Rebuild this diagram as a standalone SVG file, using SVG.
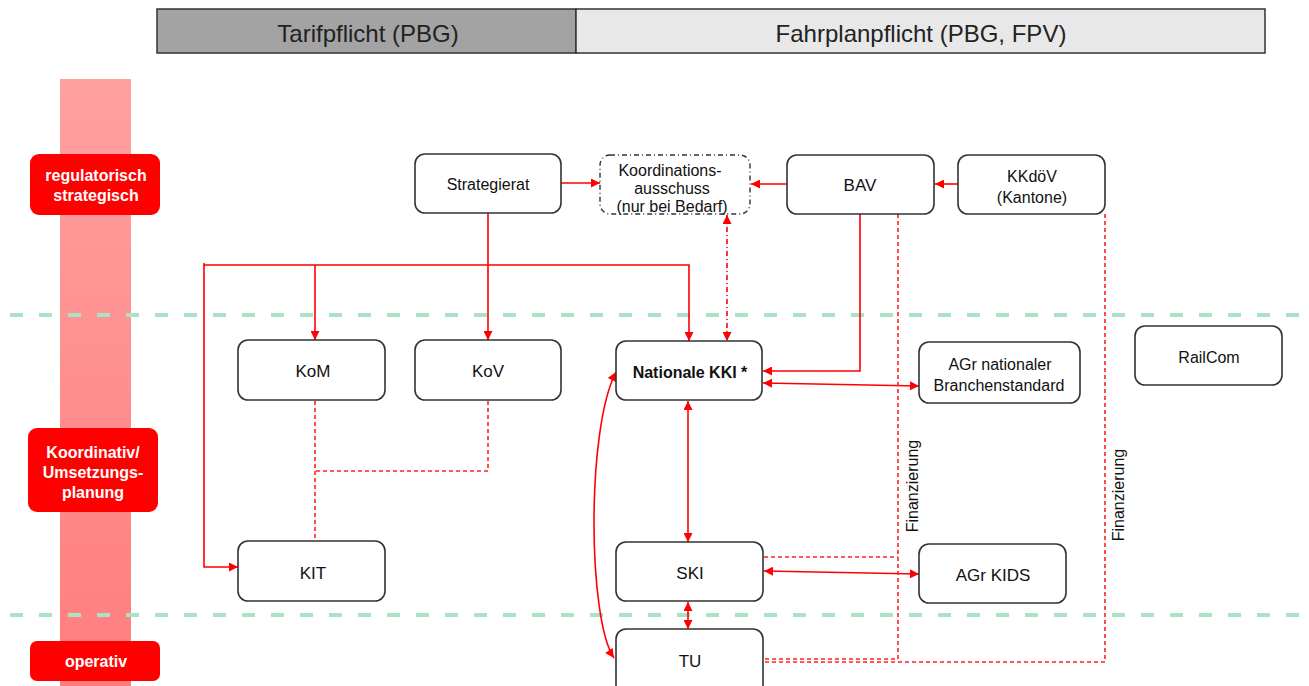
<svg xmlns="http://www.w3.org/2000/svg" width="1309" height="686" viewBox="0 0 1309 686">
<style>
.node{fill:#fff;stroke:#333;stroke-width:1.6}
.t{font-family:"Liberation Sans",Arial,sans-serif;font-size:16px;fill:#111;text-anchor:middle}
.s17{font-size:17px}
.lbl{font-family:"Liberation Sans",Arial,sans-serif;font-size:16px;font-weight:bold;fill:#fff;text-anchor:middle}
.hdr{font-family:"Liberation Sans",Arial,sans-serif;font-size:24px;fill:#222;text-anchor:middle}
.c{fill:none;stroke:#ff0000;stroke-width:1.6}
.d{fill:none;stroke:#ff2020;stroke-width:1.6;stroke-dasharray:4 3}
.dd{fill:none;stroke:#ff0000;stroke-width:1.6;stroke-dasharray:5 3 1 3}
.g{stroke:#a9e2c4;stroke-width:4;stroke-dasharray:13 16}
</style>
<defs>
<linearGradient id="band" x1="0" y1="0" x2="0" y2="1">
<stop offset="0" stop-color="#ffa0a0"/>
<stop offset="1" stop-color="#ff7d7d"/>
</linearGradient>
<marker id="a" viewBox="0 0 10 10" refX="10" refY="5" markerWidth="10" markerHeight="9" markerUnits="userSpaceOnUse" orient="auto-start-reverse">
<path d="M0,0 L10,5 L0,10 z" fill="#ff0000"/>
</marker>
</defs>

<g id="header">
<rect x="157" y="9" width="419" height="44" fill="#a3a3a3" stroke="#333" stroke-width="1.5"/>
<rect x="576" y="9" width="689" height="44" fill="#e8e8e8" stroke="#333" stroke-width="1.5"/>
<text class="hdr" x="368" y="42">Tarifpflicht (PBG)</text>
<text class="hdr" x="921" y="42">Fahrplanpflicht (PBG, FPV)</text>
</g>

<rect id="band" x="60" y="79" width="71" height="607" fill="url(#band)"/>

<g id="levels">
<line class="g" x1="10" y1="315" x2="1309" y2="315"/>
<line class="g" x1="10" y1="615" x2="1309" y2="615"/>
</g>

<g id="level-regulatorisch">
<rect x="30" y="154" width="130" height="61" rx="9" fill="#ff0000"/>
<text class="lbl" x="96" y="181">regulatorisch</text>
<text class="lbl" x="96" y="201">strategisch</text>
</g>
<g id="level-koordinativ">
<rect x="28" y="428" width="130" height="84" rx="9" fill="#ff0000"/>
<text class="lbl" x="93" y="458">Koordinativ/</text>
<text class="lbl" x="93" y="478">Umsetzungs-</text>
<text class="lbl" x="93" y="498">planung</text>
</g>
<g id="level-operativ">
<rect x="30" y="641" width="130" height="40" rx="7" fill="#ff0000"/>
<text class="lbl" x="96" y="667">operativ</text>
</g>

<g id="connectors">
<line class="c" x1="561" y1="183" x2="600" y2="183" marker-end="url(#a)"/>
<line class="c" x1="787" y1="184" x2="751" y2="184" marker-end="url(#a)"/>
<line class="c" x1="958" y1="184" x2="935" y2="184" marker-end="url(#a)"/>
<line class="c" x1="488" y1="213" x2="488" y2="340" marker-end="url(#a)"/>
<polyline class="c" points="204,263 204,265 689,265 689,341" marker-end="url(#a)"/>
<line class="c" x1="315" y1="265" x2="315" y2="340" marker-end="url(#a)"/>
<polyline class="c" points="204,265 204,567 238,567" marker-end="url(#a)"/>
<line class="dd" x1="727" y1="215" x2="727" y2="341" marker-start="url(#a)" marker-end="url(#a)"/>
<polyline class="c" points="860,214 860,371 763,371" marker-end="url(#a)"/>
<line class="c" x1="763" y1="383" x2="919" y2="386" marker-start="url(#a)" marker-end="url(#a)"/>
<line class="c" x1="688" y1="401" x2="688" y2="542" marker-start="url(#a)" marker-end="url(#a)"/>
<line class="c" x1="764" y1="571" x2="919" y2="574" marker-start="url(#a)" marker-end="url(#a)"/>
<line class="c" x1="688" y1="602" x2="688" y2="629" marker-start="url(#a)" marker-end="url(#a)"/>
<path class="c" d="M614,658 C588,620 586,430 616,372" marker-start="url(#a)" marker-end="url(#a)"/>
<line class="d" x1="315" y1="401" x2="315" y2="541"/>
<polyline class="d" points="488,401 488,471 315,471"/>
<polyline class="d" points="898,214 898,659 764,659"/>
<line class="d" x1="764" y1="557" x2="898" y2="557"/>
<polyline class="d" points="1105,214 1105,662 764,662"/>
<text class="t" font-size="15" transform="translate(918,486) rotate(-90)">Finanzierung</text>
<text class="t" font-size="15" transform="translate(1124,495) rotate(-90)">Finanzierung</text>
</g>

<g id="strategierat">
<rect class="node" x="415" y="154" width="146" height="59" rx="10"/>
<text class="t" x="488" y="190" font-size="15.5">Strategierat</text>
</g>
<g id="koordinationsausschuss">
<rect x="600" y="155" width="150" height="59" rx="10" fill="#fff" stroke="#333" stroke-width="1.4" stroke-dasharray="5 3 1 3"/>
<text class="t" x="670" y="176" font-size="15">Koordinations-</text>
<text class="t" x="672" y="194" font-size="15">ausschuss</text>
<text class="t" x="672" y="212" font-size="15">(nur bei Bedarf)</text>
</g>
<g id="bav">
<rect class="node" x="787" y="155" width="147" height="59" rx="10"/>
<text class="t s17" x="860" y="191">BAV</text>
</g>
<g id="kkdoev">
<rect class="node" x="958" y="155" width="147" height="59" rx="10"/>
<text class="t" x="1032" y="182">KKdöV</text>
<text class="t" x="1032" y="203">(Kantone)</text>
</g>
<g id="kom">
<rect class="node" x="238" y="340" width="147" height="60" rx="10"/>
<text class="t s17" x="313" y="377">KoM</text>
</g>
<g id="kov">
<rect class="node" x="415" y="340" width="146" height="60" rx="10"/>
<text class="t s17" x="488" y="377">KoV</text>
</g>
<g id="nationale-kki">
<rect class="node" x="616" y="341" width="146" height="59" rx="10"/>
<text class="t" x="690" y="378" font-weight="bold" font-size="17">Nationale KKI *</text>
</g>
<g id="agr-nationaler">
<rect class="node" x="919" y="342" width="161" height="61" rx="10"/>
<text class="t" x="1000" y="370" font-size="16.5">AGr nationaler</text>
<text class="t" x="999" y="391" font-size="16.5">Branchenstandard</text>
</g>
<g id="railcom">
<rect class="node" x="1135" y="326" width="147" height="59" rx="10"/>
<text class="t" x="1209" y="363">RailCom</text>
</g>
<g id="kit">
<rect class="node" x="238" y="541" width="147" height="60" rx="10"/>
<text class="t s17" x="313" y="579">KIT</text>
</g>
<g id="ski">
<rect class="node" x="616" y="542" width="147" height="59" rx="10"/>
<text class="t s17" x="690" y="579">SKI</text>
</g>
<g id="agr-kids">
<rect class="node" x="919" y="544" width="147" height="59" rx="10"/>
<text class="t s17" x="993" y="581">AGr KIDS</text>
</g>
<g id="tu">
<rect class="node" x="616" y="629" width="147" height="70" rx="10"/>
<text class="t s17" x="690" y="667">TU</text>
</g>
</svg>
